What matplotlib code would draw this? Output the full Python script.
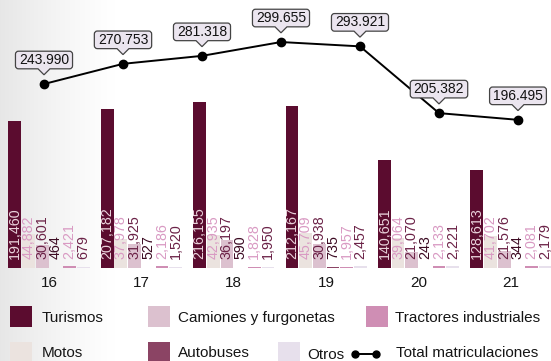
import numpy as np
import matplotlib
matplotlib.use("Agg")
import matplotlib.pyplot as plt
from matplotlib.path import Path
from matplotlib.patches import Rectangle
from matplotlib.lines import Line2D

# Matriculaciones por tipo de vehículo
years = ["16", "17", "18", "19", "20", "21"]
turismos = [191460, 207182, 216155, 212167, 140651, 128613]
motos = [44882, 37978, 42935, 45709, 39064, 41702]
camiones = [30601, 31925, 36197, 30938, 21070, 21576]
autobuses = [464, 527, 590, 735, 243, 344]
tractores = [2421, 2186, 1828, 1957, 2133, 2081]
otros = [679, 1520, 1950, 2457, 2221, 2179]
total_matriculaciones = [243990, 270753, 281318, 299655, 293921, 205382, 196495]

W, H, DPI = 551, 361, 100
plt.rcParams['font.family'] = ['Liberation Sans', 'DejaVu Sans']

fig = plt.figure(figsize=(W / DPI, H / DPI), dpi=DPI)
fig.patch.set_facecolor('white')


def fx(px):
    return px / W


def fy(py):
    return 1 - py / H


# soft grey shade along the left edge
bg = fig.add_axes([0, 0, 1, 1], zorder=-10)
cols = np.arange(W)
shade = 1 - 0.095 * np.clip(1 - cols / 115, 0, 1) ** 1.2
img = np.repeat(shade[None, :], 2, axis=0)
bg.imshow(np.dstack([img] * 3), aspect='auto', extent=(0, 1, 0, 1),
          interpolation='bilinear')
bg.set_axis_off()

base_py = 268
rect = [0, fy(base_py), 1, base_py / H]

# grouped bars
ax = fig.add_axes(rect)
ax.patch.set_visible(False)
ax.set_xlim(-0.530, 5.433)
ax.set_ylim(0, 350000)
for s in ax.spines.values():
    s.set_visible(False)
ax.set_yticks([])
ax.set_xticks(range(len(years)), years)
ax.tick_params(axis='x', length=0, pad=6, labelsize=11, colors='#151515')

series = [
    (turismos, '#5b0c2f', '#ead3dc'),
    (motos, '#ebe3df', '#d99ac3'),
    (camiones, '#dcc1cf', '#6b2247'),
    (autobuses, '#8b4464', '#3c0a22'),
    (tractores, '#cf8eb4', '#d99ac3'),
    (otros, '#e7e0ec', '#6b2247'),
]
step, width = 0.148, 0.138
x = np.arange(len(years))
for j, (vals, col, lcol) in enumerate(series):
    xpos = x + (j - 2.5) * step
    ax.bar(xpos, vals, width=width, color=col, linewidth=0)
    for xi, v in zip(xpos, vals):
        ax.annotate(f"{v:,}", (xi, 0), xytext=(0, 9), textcoords='offset pixels',
                    rotation=90, ha='center', va='bottom', fontsize=10.3, color=lcol)


def callout_box(x0, y0, width, height, mutation_size):
    """Rounded box with a small pointer under its centre."""
    m = mutation_size
    padx, pady = 0.25 * m, 0.13 * m
    r = 0.22 * m
    tw, th = 0.43 * m, 0.43 * m
    x0, y0 = x0 - padx, y0 - pady
    x1, y1 = x0 + width + 2 * padx, y0 + height + 2 * pady
    cx = (x0 + x1) / 2
    verts = [
        (x0 + r, y0), (cx - tw, y0), (cx, y0 - th), (cx + tw, y0), (x1 - r, y0),
        (x1, y0), (x1, y0 + r),
        (x1, y1 - r),
        (x1, y1), (x1 - r, y1),
        (x0 + r, y1),
        (x0, y1), (x0, y1 - r),
        (x0, y0 + r),
        (x0, y0), (x0 + r, y0),
        (x0 + r, y0),
    ]
    codes = [
        Path.MOVETO, Path.LINETO, Path.LINETO, Path.LINETO, Path.LINETO,
        Path.CURVE3, Path.CURVE3,
        Path.LINETO,
        Path.CURVE3, Path.CURVE3,
        Path.LINETO,
        Path.CURVE3, Path.CURVE3,
        Path.LINETO,
        Path.CURVE3, Path.CURVE3,
        Path.CLOSEPOLY,
    ]
    return Path(verts, codes)


# total line on its own scale
ax2 = fig.add_axes(rect)
ax2.patch.set_visible(False)
ax2.set_axis_off()
ax2.set_xlim(-0.557, 6.418)
ax2.set_ylim(0, 355400)
xl = np.arange(len(total_matriculaciones))
ax2.plot(xl, total_matriculaciones, color='black', lw=1.4, marker='o', ms=6, zorder=3)
for xi, v in zip(xl, total_matriculaciones):
    ax2.annotate(f"{v:,}".replace(',', '.'), (xi, v), xytext=(0, 24),
                 textcoords='offset pixels', ha='center', va='center',
                 fontsize=10, color='#111111', zorder=5,
                 bbox=dict(boxstyle=callout_box, fc='#ebe5ef', ec='#444444', lw=0.9))

# legend
def legend_square(xp, yp, color):
    fig.add_artist(Rectangle((fx(xp), fy(yp + 21)), 22 / W, 21 / H,
                             transform=fig.transFigure, color=color, lw=0))


def legend_text(xp, yp, label):
    fig.text(fx(xp), fy(yp), label, ha='left', va='center', fontsize=11, color='#151515')


row1, row2 = 306, 342
legend_square(10, row1, '#5b0c2f'); legend_text(42, row1 + 12, 'Turismos')
legend_square(148, row1, '#dcc1cf'); legend_text(178, row1 + 12, 'Camiones y furgonetas')
legend_square(366, row1, '#cf8eb4'); legend_text(395, row1 + 12, 'Tractores industriales')
legend_square(10, row2, '#ebe3df'); legend_text(42, row2 + 11, 'Motos')
legend_square(148, row2, '#8b4464'); legend_text(178, row2 + 11, 'Autobuses')
legend_square(278, row2, '#e7e0ec'); legend_text(307, row2 + 13, 'Otros')
fig.add_artist(Line2D([fx(355), fx(376)], [fy(row2 + 12)] * 2, transform=fig.transFigure,
                      color='black', lw=1.4, marker='o', ms=5))
legend_text(396, row2 + 11, 'Total matriculaciones')

fig.savefig('out.png', dpi=DPI, facecolor=fig.get_facecolor())
